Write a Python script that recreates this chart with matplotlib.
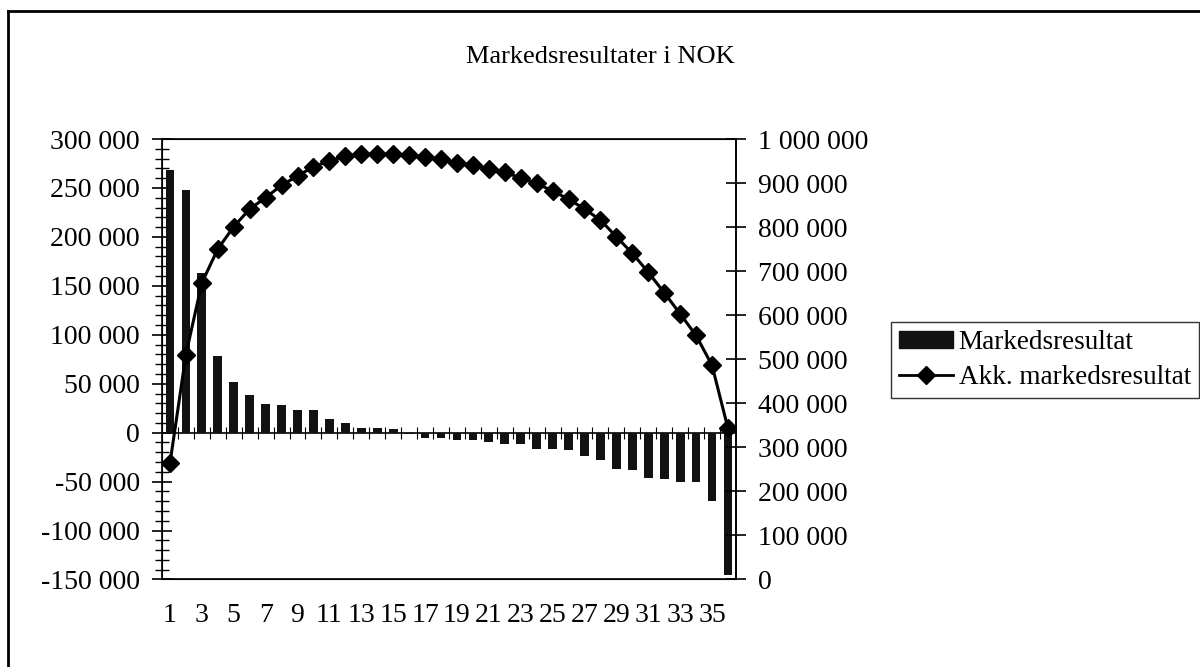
import matplotlib.pyplot as plt
import matplotlib.ticker as mticker
from matplotlib.lines import Line2D

plt.rcParams['font.family'] = ['Liberation Serif', 'DejaVu Serif']

# data
kategori = list(range(1, 37))
markedsresultat = [268000, 248000, 163500, 78700, 51500, 38000, 28800, 28000, 23000, 23000,
                   13600, 10000, 5000, 5000, 4000, -1000, -5000, -5000, -7500, -7500,
                   -9500, -12000, -12000, -17000, -17000, -18000, -23800, -28000, -36700, -38400,
                   -46500, -47500, -50000, -50000, -70000, -145000]
akk_markedsresultat = [264000, 510600, 673500, 750400, 801000, 841000, 867000, 895000, 916000, 937000,
                       950000, 961500, 965000, 965000, 965000, 964000, 959000, 954000, 946000, 940400,
                       933000, 924000, 912000, 899000, 882000, 863500, 841000, 816000, 778000, 740500,
                       697500, 651000, 603000, 554000, 486000, 343000]
x_labels = [str(k) if k % 2 == 1 else '' for k in kategori]


def nok(v, pos=None):
    return f"{v:,.0f}".replace(",", " ")


fig = plt.figure(figsize=(12, 6.67), dpi=100)
ax = fig.add_axes([0.135, 0.1312, 0.4783, 0.6604])

ax.bar(kategori, markedsresultat, width=0.55, color='#121212', zorder=2)
ax.set_xlim(0.5, 36.5)
ax.set_ylim(-150000, 300000)
ax.yaxis.set_major_locator(mticker.MultipleLocator(50000))
ax.yaxis.set_minor_locator(mticker.MultipleLocator(10000))
ax.yaxis.set_major_formatter(mticker.FuncFormatter(nok))
ax.tick_params(axis='y', which='major', direction='inout', length=14, width=1.2,
               labelsize=20, pad=9)
ax.tick_params(axis='y', which='minor', direction='inout', length=10, width=1.0)
ax.set_xticks(kategori)
ax.set_xticklabels(x_labels)
ax.tick_params(axis='x', length=0, labelsize=20, pad=17)
for s in ax.spines.values():
    s.set_linewidth(1.2)

# x axis drawn at zero with category-boundary ticks
zero_frac = (0 - ax.get_ylim()[0]) / (ax.get_ylim()[1] - ax.get_ylim()[0])
xa = ax.secondary_xaxis(zero_frac)
xa.set_xticks([k + 0.5 for k in kategori[:-1]])
xa.tick_params(direction='inout', length=8, width=0.8, labelbottom=False)
xa.spines['bottom'].set_linewidth(1.2)

ax2 = ax.twinx()
ax2.plot(kategori, akk_markedsresultat, color='black', lw=2.2, marker='D', markersize=9,
         zorder=3)
ax2.set_ylim(0, 1000000)
ax2.yaxis.set_major_locator(mticker.MultipleLocator(100000))
ax2.yaxis.set_major_formatter(mticker.FuncFormatter(nok))
ax2.tick_params(axis='y', direction='inout', length=14, width=1.2, labelsize=20, pad=9)
ax2.spines['right'].set_linewidth(1.2)

fig.text(0.5, 1 - 57 / 667, 'Markedsresultater i NOK', ha='center', va='center', fontsize=19)

handles = [plt.Rectangle((0, 0), 1, 1, color='#121212'),
           Line2D([], [], color='black', lw=2, marker='D', markersize=9)]
leg = fig.legend(handles, ['Markedsresultat', 'Akk. markedsresultat'],
                 loc='upper left', bbox_to_anchor=(891 / 1200, 1 - 322 / 667),
                 fontsize=19.5, frameon=True, fancybox=False, borderpad=0.3,
                 handlelength=2.0, handleheight=0.6, handletextpad=0.2, labelspacing=0.35,
                 borderaxespad=0)
leg.get_frame().set_edgecolor('black')
leg.get_frame().set_linewidth(1.0)

# outer chart border
fig.add_artist(Line2D([8 / 1200, 8 / 1200], [0, 1 - 11 / 667], color='black', lw=2))
fig.add_artist(Line2D([8 / 1200, 1], [1 - 11 / 667, 1 - 11 / 667], color='black', lw=2))

fig.savefig('out.png', dpi=100)
